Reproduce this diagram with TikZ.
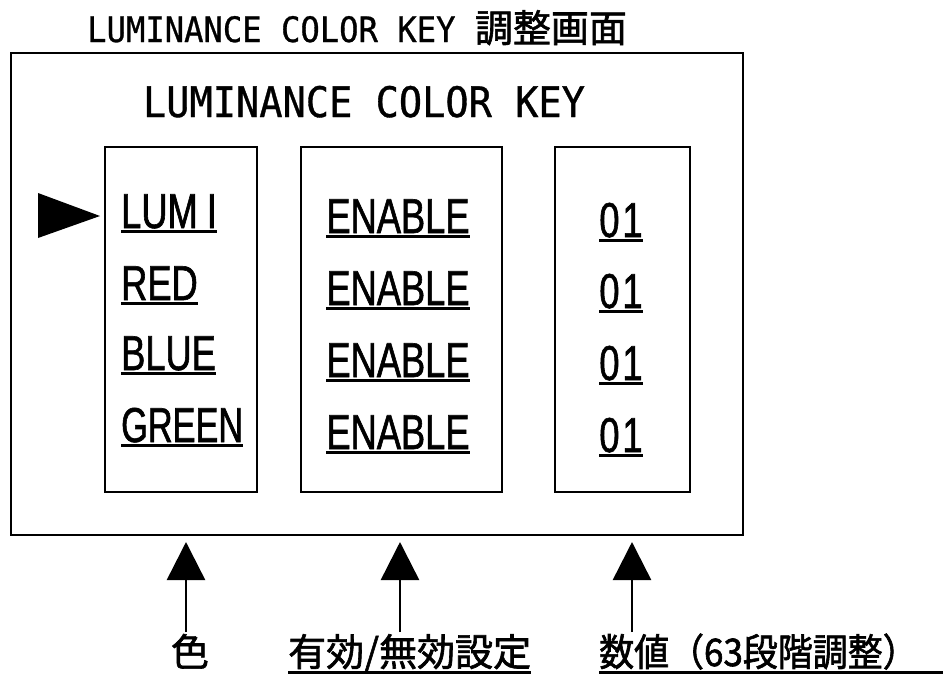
\documentclass[tikz,border=0pt]{standalone}
\usepackage{fontspec}
\newfontfamily\monof[FakeStretch=0.92,FakeBold=0.8]{DejaVu Sans Mono}
\newfontfamily\rowf[FakeStretch=0.74,FakeBold=1.2]{Liberation Sans}
\newfontfamily\rowg[FakeStretch=0.70,FakeBold=1.2]{Liberation Sans}
\newfontfamily\cjkf[FakeBold=1.6]{Noto Sans CJK JP}
\newfontfamily\cjkn[FakeStretch=0.92,FakeBold=1.6]{Noto Sans CJK JP}
\usetikzlibrary{arrows.meta}
\begin{document}
\begin{tikzpicture}[x=1pt,y=-1pt,
  panel/.style={draw, line width=2pt, inner sep=0pt, outer sep=0pt},
  colbox/.style={draw, line width=1.6pt, inner sep=0pt, outer sep=0pt},
  rowtxt/.style={inner sep=0pt, font=\rowf\fontsize{49}{49}\selectfont},
  uline/.style={line width=3pt},
  ptr/.style={line width=2.5pt, -{Triangle[length=38pt,width=38pt]}},
  lbl/.style={inner sep=0pt, font=\cjkf\fontsize{38}{38}\selectfont},
]
\useasboundingbox (0,0) rectangle (943,675);

% top caption
\node[inner sep=0pt, anchor=base west] (cap) at (87,42)
  {\monof\fontsize{35}{35}\selectfont LUMINANCE COLOR KEY \cjkf\fontsize{38}{38}\selectfont 調整画面};

% outer panel
\node[panel, minimum width=732pt, minimum height=482pt] (outer) at (377,294) {};
\node[inner sep=0pt, anchor=base] (title) at (364,117)
  {\monof\fontsize{42}{42}\selectfont LUMINANCE COLOR KEY};

% column boxes
\node[colbox, minimum width=152pt, minimum height=345pt] (c1) at (181,319.5) {};
\node[colbox, minimum width=201pt, minimum height=345pt] (c2) at (401.5,319.5) {};
\node[colbox, minimum width=135pt, minimum height=345pt] (c3) at (622.5,319.5) {};

% selection pointer
\fill (38,193) -- (100,216) -- (38,238) -- cycle;

% left column
\node[rowtxt, anchor=base west] (l1) at (121,228) {LUM\kern9pt I};
\node[rowtxt, anchor=base west] (l2) at (121,300) {RED};
\node[rowtxt, anchor=base west] (l3) at (121,370) {BLUE};
\node[rowtxt, anchor=base west, font=\rowg\fontsize{49}{49}\selectfont] (l4) at (121,442) {GREEN};
% middle column
\node[rowtxt, anchor=base] (m1) at (398,233) {ENABLE};
\node[rowtxt, anchor=base] (m2) at (398,305) {ENABLE};
\node[rowtxt, anchor=base] (m3) at (398,377) {ENABLE};
\node[rowtxt, anchor=base] (m4) at (398,449) {ENABLE};
% right column
\node[rowtxt, anchor=base] (v1) at (621,237) {0\kern3pt 1};
\node[rowtxt, anchor=base] (v2) at (621,308) {0\kern3pt 1};
\node[rowtxt, anchor=base] (v3) at (621,380) {0\kern3pt 1};
\node[rowtxt, anchor=base] (v4) at (621,452) {0\kern3pt 1};

\foreach \n in {l1,l2,l3,l4,m1,m2,m3,m4,v1,v2,v3,v4}
  \draw[uline] ([yshift=-3pt]\n.base west) -- ([yshift=-3pt]\n.base east);

% bottom labels
\node[lbl, anchor=base] (b1) at (190,666) {色};
\node[lbl, anchor=base west] (b2) at (288,666) {有効/無効設定};
\node[lbl, anchor=base west, font=\cjkn\fontsize{38}{38}\selectfont] (b3) at (599,666) {数値（63段階調整）};
\draw[uline] ([yshift=-6pt]b2.base west) -- ([yshift=-6pt]b2.base east);
\coordinate (b3end) at (943,672);
\draw[uline] ([yshift=-6pt]b3.base west) -- (b3end);

% pointing arrows
\coordinate (a1s) at (186,632); \coordinate (a1t) at (186,542);
\coordinate (a2s) at (400,632); \coordinate (a2t) at (400,542);
\coordinate (a3s) at (632,632); \coordinate (a3t) at (632,542);
\draw[ptr] (a1s) -- (a1t);
\draw[ptr] (a2s) -- (a2t);
\draw[ptr] (a3s) -- (a3t);
\end{tikzpicture}
\end{document}
